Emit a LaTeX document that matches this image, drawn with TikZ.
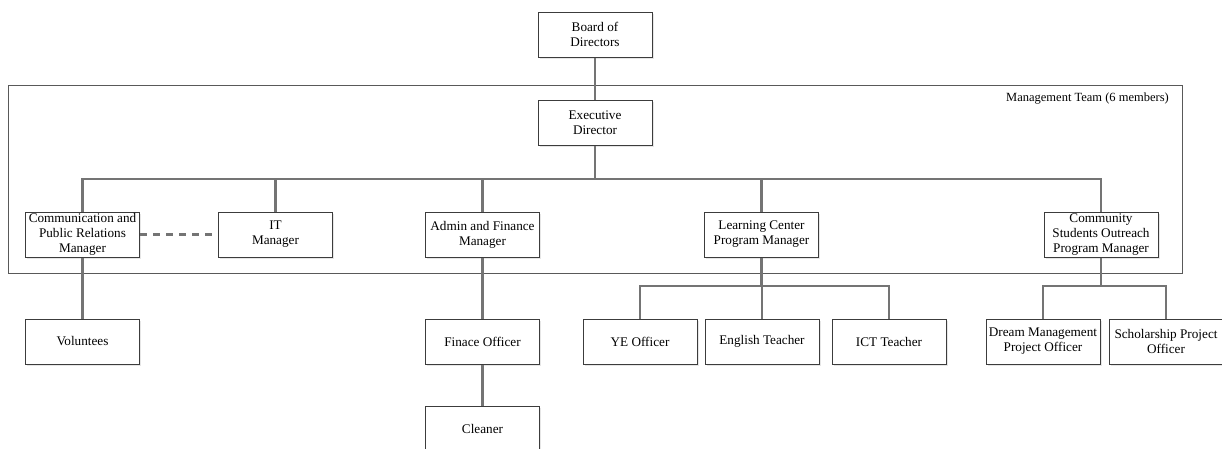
\documentclass[tikz,border=0pt]{standalone}
\usepackage{fontspec}
\setmainfont{Liberation Serif}
\usetikzlibrary{shadows}
\definecolor{linkgray}{HTML}{747474}
\definecolor{boxline}{HTML}{3C3C3C}
\tikzset{
  unit/.style={draw=boxline, line width=1pt, fill=white, minimum width=114pt, minimum height=45pt,
    inner sep=1pt, align=center, font=\fontsize{13.2}{15}\selectfont,
    drop shadow={shadow xshift=1.5pt, shadow yshift=-1.5pt, opacity=0.2}},
  conn/.style={draw=linkgray, line width=2.4pt},
  informal/.style={draw=linkgray, line width=2.4pt, dash pattern=on 7pt off 6pt},
  team/.style={draw=boxline!85, line width=0.8pt},
  lab/.style={text=black, font=\fontsize{12.5}{15}\selectfont, inner sep=0pt},
}

\begin{document}
\begin{tikzpicture}[x=1pt, y=-1pt]
  \useasboundingbox (0,0) rectangle (1222,448);
  % management team frame
  \draw[team] (8,85) rectangle (1182,273);
  \node[lab, anchor=east] (teamlab) at (1169,99) {Management Team (6 members)};
  % top of the chart
  \node[unit] (board) at (595,34.5) {Board of\\Directors};
  \node[unit] (exec) at (595,123) {Executive\\Director};
  % managers
  \node[unit] (comm) at (82.5,234.5) {Communication and\\Public Relations\\Manager};
  \node[unit] (it) at (275.5,234.5) {IT\\Manager};
  \node[unit] (admin) at (482.5,234.5) {Admin and Finance\\Manager};
  \node[unit] (learn) at (761.5,234.5) {Learning Center\\Program Manager};
  \node[unit] (outreach) at (1101,234.5) {Community\\Students Outreach\\Program Manager};
  % staff
  \node[unit] (vol) at (82.5,341.5) {Voluntees};
  \node[unit] (fin) at (482.5,341.5) {Finace Officer};
  \node[unit] (clean) at (482.5,428.5) {Cleaner};
  \node[unit] (ye) at (640,341.5) {YE Officer};
  \node[unit] (eng) at (762,341.5) {English Teacher};
  \node[unit] (ict) at (889,341.5) {ICT Teacher};
  \node[unit] (dream) at (1043,341.5) {Dream Management\\Project Officer};
  \node[unit] (schol) at (1166,341.5) {Scholarship Project\\Officer};
  \coordinate (bus) at (0,179);
  \coordinate (subbus) at (0,286);
  % connectors
  \draw[conn] (board) -- (exec);
  \draw[conn] (exec.south) -- (exec.south |- bus);
  \foreach \m in {comm,it,admin,learn,outreach}
    \draw[conn] (\m.north) |- (exec.south |- bus);
  \draw[informal] (comm.east) -- (it.west);
  \draw[conn] (comm.south) -- (vol.north);
  \draw[conn] (admin.south) -- (fin.north);
  \draw[conn] (fin.south) -- (clean.north);
  \draw[conn] (learn.south) -- (learn.south |- subbus);
  \foreach \m in {ye,eng,ict}
    \draw[conn] (\m.north) |- (learn.south |- subbus);
  \draw[conn] (outreach.south) -- (outreach.south |- subbus);
  \foreach \m in {dream,schol}
    \draw[conn] (\m.north) |- (outreach.south |- subbus);
\end{tikzpicture}
\end{document}
